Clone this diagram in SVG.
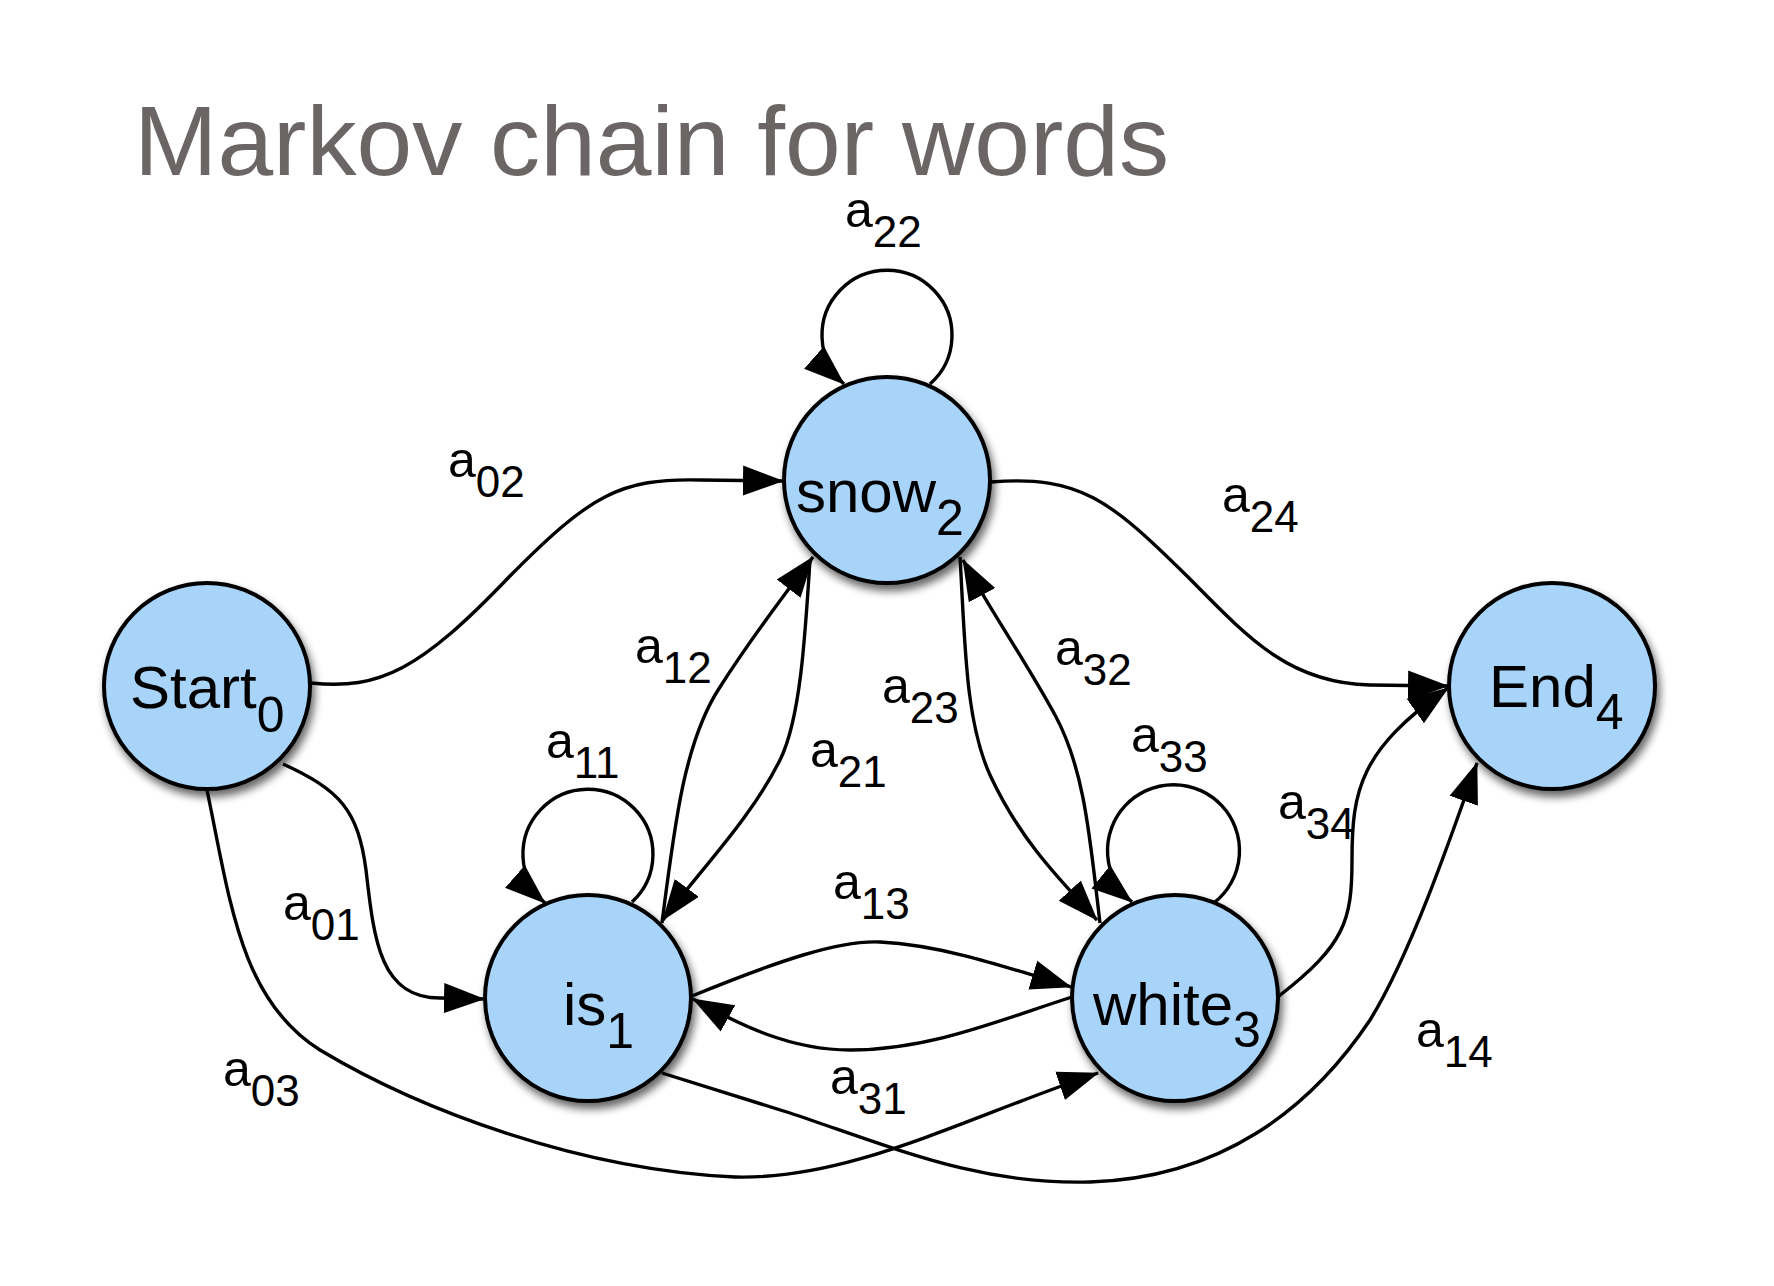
<svg xmlns="http://www.w3.org/2000/svg" width="1774" height="1286" viewBox="0 0 1774 1286">
<style>
.title{font-family:"Liberation Sans",Arial,sans-serif;font-size:99px;fill:#6b6665}
.node circle{fill:#a8d4fa;stroke:#000;stroke-width:4}
.nl{font-family:"Liberation Sans",Arial,sans-serif;font-size:60px;fill:#000}
.ns{font-size:50px}
.el{font-family:"Liberation Sans",Arial,sans-serif;font-size:50px;fill:#000}
.es{font-size:44px}
.edge{fill:none;stroke:#000;stroke-width:3.4;marker-end:url(#ah)}
</style>
<defs>
<marker id="ah" markerUnits="userSpaceOnUse" markerWidth="42" markerHeight="32" viewBox="0 0 42 32" refX="40" refY="16" orient="auto">
<path d="M0,1 L41,16 L0,31 z" fill="#000"/>
</marker>
<filter id="sh" x="-20%" y="-20%" width="150%" height="150%">
<feGaussianBlur in="SourceAlpha" stdDeviation="4"/>
<feOffset dx="3" dy="6" result="o"/>
<feComponentTransfer><feFuncA type="linear" slope="0.6"/></feComponentTransfer>
<feMerge><feMergeNode/><feMergeNode in="SourceGraphic"/></feMerge>
</filter>
</defs>
<rect width="1774" height="1286" fill="#fff"/>
<text class="title" x="134" y="175" textLength="1035" lengthAdjust="spacingAndGlyphs">Markov chain for words</text>

<g id="connectors">
<path id="e02" class="edge" d="M311,683 C380,690 420,670 509,577 C590,495 620,478 700,480 L783,481"/>
<path id="e24" class="edge" d="M991,482 C1080,475 1110,500 1188,577 C1250,640 1290,683 1370,685 L1448,686"/>
<path id="e01" class="edge" d="M283,764 C340,790 358,810 366,870 C374,940 380,998 440,998 L484,999"/>
<path id="e03" class="edge" d="M207,790 C230,900 240,1000 320,1050 C420,1110 580,1170 735,1177 C850,1180 960,1120 1098,1073"/>
<path id="e14" class="edge" d="M662,1073 L790,1113 C900,1150 980,1185 1090,1182 C1220,1178 1310,1110 1370,1020 C1410,955 1450,840 1477,763"/>
<path id="e34" class="edge" d="M1279,996 C1345,945 1352,920 1352,860 C1352,790 1360,750 1448,688"/>
<path id="e12" class="edge" d="M662,923 C675,820 685,740 720,687 C750,640 780,600 813,557"/>
<path id="e21" class="edge" d="M810,560 C805,640 800,720 780,760 C750,820 700,870 663,920"/>
<path id="e23" class="edge" d="M960,557 C965,640 965,720 990,775 C1020,840 1060,880 1097,920"/>
<path id="e32" class="edge" d="M1100,923 C1090,840 1085,770 1055,715 C1025,660 990,610 963,560"/>
<path id="e13" class="edge" d="M692,996 C780,960 840,940 880,942 C940,945 1000,965 1071,987"/>
<path id="e31" class="edge" d="M1072,997 C1000,1020 930,1050 850,1050 C790,1050 740,1025 693,999"/>
<path id="e22" class="edge" d="M930,384 A65,65 0 1 0 844,384"/>
<path id="e11" class="edge" d="M632,902 A65,65 0 1 0 545,903"/>
<path id="e33" class="edge" d="M1215,902 A66,66 0 1 0 1132,902"/>
</g>

<g id="edge-labels">
<text class="el" x="845" y="227">a<tspan class="es" dy="20">22</tspan></text>
<text class="el" x="448" y="477">a<tspan class="es" dy="20">02</tspan></text>
<text class="el" x="1222" y="512">a<tspan class="es" dy="20">24</tspan></text>
<text class="el" x="635" y="663">a<tspan class="es" dy="20">12</tspan></text>
<text class="el" x="1055" y="665">a<tspan class="es" dy="20">32</tspan></text>
<text class="el" x="882" y="703">a<tspan class="es" dy="20">23</tspan></text>
<text class="el" x="810" y="767">a<tspan class="es" dy="20">21</tspan></text>
<text class="el" x="546" y="758">a<tspan class="es" dy="20">11</tspan></text>
<text class="el" x="1131" y="752">a<tspan class="es" dy="20">33</tspan></text>
<text class="el" x="1278" y="819">a<tspan class="es" dy="20">34</tspan></text>
<text class="el" x="833" y="899">a<tspan class="es" dy="20">13</tspan></text>
<text class="el" x="830" y="1094">a<tspan class="es" dy="20">31</tspan></text>
<text class="el" x="283" y="920">a<tspan class="es" dy="20">01</tspan></text>
<text class="el" x="223" y="1086">a<tspan class="es" dy="20">03</tspan></text>
<text class="el" x="1416" y="1047">a<tspan class="es" dy="20">14</tspan></text>
</g>

<g id="node-start" class="node">
<circle cx="207" cy="686" r="103" filter="url(#sh)"/>
<text class="nl" x="130" y="708">Start<tspan class="ns" dy="24">0</tspan></text>
</g>
<g id="node-snow" class="node">
<circle cx="887" cy="480" r="103" filter="url(#sh)"/>
<text class="nl" x="796" y="512">snow<tspan class="ns" dy="23">2</tspan></text>
</g>
<g id="node-end" class="node">
<circle cx="1552" cy="686" r="103" filter="url(#sh)"/>
<text class="nl" x="1489" y="707">End<tspan class="ns" dy="22">4</tspan></text>
</g>
<g id="node-is" class="node">
<circle cx="588" cy="998" r="103" filter="url(#sh)"/>
<text class="nl" x="563" y="1025">is<tspan class="ns" dy="23">1</tspan></text>
</g>
<g id="node-white" class="node">
<circle cx="1175" cy="998" r="103" filter="url(#sh)"/>
<text class="nl" x="1093" y="1025">white<tspan class="ns" dy="22">3</tspan></text>
</g>
</svg>
